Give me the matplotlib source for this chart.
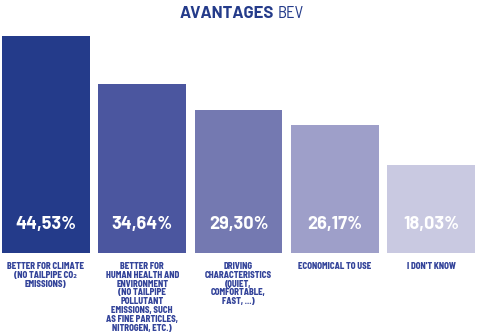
import matplotlib.pyplot as plt

categories = [
    "BETTER FOR CLIMATE\n(NO TAILPIPE CO\u2082\nEMISSIONS)",
    "BETTER FOR\nHUMAN HEALTH AND\nENVIRONMENT\n(NO TAILPIPE\nPOLLUTANT\nEMISSIONS, SUCH\nAS FINE PARTICLES,\nNITROGEN, ETC.)",
    "DRIVING\nCHARACTERISTICS\n(QUIET,\nCOMFORTABLE,\nFAST, ...)",
    "ECONOMICAL TO USE",
    "I DON'T KNOW",
]
values = [44.53, 34.64, 29.30, 26.17, 18.03]
value_labels = ["44,53%", "34,64%", "29,30%", "26,17%", "18,03%"]
colors = ["#243b8a", "#4b569f", "#7479b1", "#9e9fc9", "#c9c9e1"]

plt.rcParams["font.family"] = ["Barlow Semi Condensed", "DejaVu Sans"]
wide = ["Barlow", "DejaVu Sans"]

fig = plt.figure(figsize=(4.8, 3.35), dpi=100)
ax = fig.add_axes([2 / 480, 82 / 335, 473 / 480, 217 / 335])

x = range(len(values))
ax.bar(x, values, width=0.91, color=colors)
ax.set_xlim(-0.455, 4.455)
ax.set_ylim(0, max(values))
ax.axis("off")

for i, (lab, cat) in enumerate(zip(value_labels, categories)):
    ax.annotate(lab, xy=(i, 0), xytext=(0, 17.3), textcoords="offset points",
                ha="center", va="baseline", color="white", fontsize=13,
                fontweight="bold", family=wide)
    ax.annotate(cat, xy=(i, 0), xytext=(0, -6.5), textcoords="offset points",
                ha="center", va="top", color="#34449a", fontsize=6.3,
                fontweight="heavy", linespacing=0.97)

fig.text(274 / 480, 1 - 18.5 / 335, "AVANTAGES", ha="right", va="baseline",
         color="#243b8a", fontsize=12, fontweight="bold", family=wide)
fig.text(278 / 480, 1 - 18.5 / 335, "BEV", ha="left", va="baseline",
         color="#243b8a", fontsize=12)

fig.savefig("out.png", dpi=100)
